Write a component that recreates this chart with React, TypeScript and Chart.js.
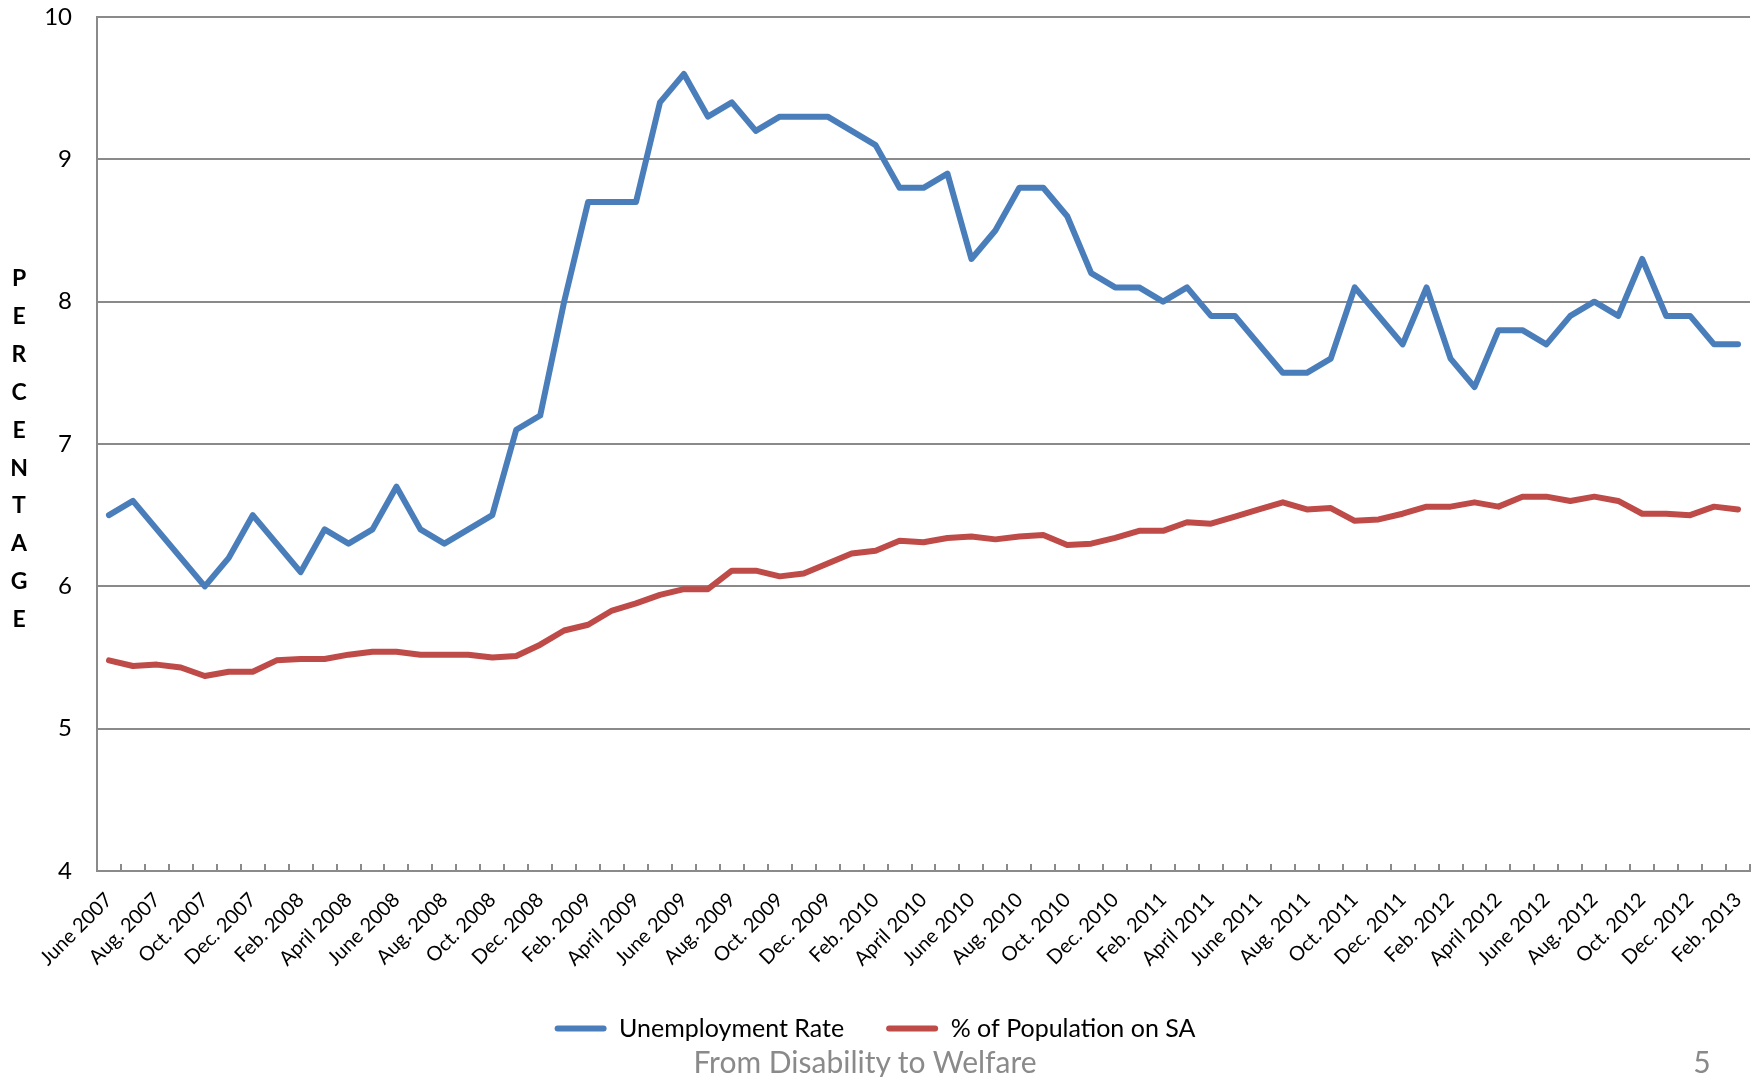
import React, { useEffect, useRef } from "react";
import { Chart, registerables } from "chart.js";

Chart.register(...registerables);

// ---- Data ----
const monthNames = ["Jan.", "Feb.", "March", "April", "May", "June", "July", "Aug.", "Sept.", "Oct.", "Nov.", "Dec."];
const startYear = 2007;
const startMonthIndex = 5; // June
const pointCount = 69; // June 2007 .. Feb. 2013

const categories: string[] = Array.from({ length: pointCount }, (_, i) => {
  const m = (startMonthIndex + i) % 12;
  const y = startYear + Math.floor((startMonthIndex + i) / 12);
  return `${monthNames[m]} ${y}`;
});

const unemploymentRate = [
  6.5, 6.6, 6.4, 6.2, 6.0, 6.2, 6.5, 6.3, 6.1, 6.4,
  6.3, 6.4, 6.7, 6.4, 6.3, 6.4, 6.5, 7.1, 7.2, 8.0,
  8.7, 8.7, 8.7, 9.4, 9.6, 9.3, 9.4, 9.2, 9.3, 9.3,
  9.3, 9.2, 9.1, 8.8, 8.8, 8.9, 8.3, 8.5, 8.8, 8.8,
  8.6, 8.2, 8.1, 8.1, 8.0, 8.1, 7.9, 7.9, 7.7, 7.5,
  7.5, 7.6, 8.1, 7.9, 7.7, 8.1, 7.6, 7.4, 7.8, 7.8,
  7.7, 7.9, 8.0, 7.9, 8.3, 7.9, 7.9, 7.7, 7.7,
];

const populationOnSA = [
  5.48, 5.44, 5.45, 5.43, 5.37, 5.40, 5.40, 5.48, 5.49, 5.49,
  5.52, 5.54, 5.54, 5.52, 5.52, 5.52, 5.50, 5.51, 5.59, 5.69,
  5.73, 5.83, 5.88, 5.94, 5.98, 5.98, 6.11, 6.11, 6.07, 6.09,
  6.16, 6.23, 6.25, 6.32, 6.31, 6.34, 6.35, 6.33, 6.35, 6.36,
  6.29, 6.30, 6.34, 6.39, 6.39, 6.45, 6.44, 6.49, 6.54, 6.59,
  6.54, 6.55, 6.46, 6.47, 6.51, 6.56, 6.56, 6.59, 6.56, 6.63,
  6.63, 6.60, 6.63, 6.60, 6.51, 6.51, 6.50, 6.56, 6.54,
];

const seriesNames = ["Unemployment Rate", "% of Population on SA"];
const yMin = 4;
const yMax = 10;
const yStep = 1;
const axisTitleLetters = ["P", "E", "R", "C", "E", "N", "T", "A", "G", "E"];
const footerText = "From Disability to Welfare";
const slideNumber = "5";

const BLUE = "#4A7EBB";
const RED = "#BE4B48";
const GRID = "#8a8a8a";
const FONT = "Lato, 'Open Sans', sans-serif";

export default function App() {
  const canvasRef = useRef<HTMLCanvasElement | null>(null);

  useEffect(() => {
    const canvas = canvasRef.current;
    if (!canvas) return;
    const chart = new Chart(canvas, {
      type: "line",
      data: {
        labels: categories,
        datasets: [
          {
            label: seriesNames[0],
            data: unemploymentRate,
            borderColor: BLUE,
            backgroundColor: BLUE,
            borderWidth: 6,
            pointRadius: 0,
            tension: 0,
            borderJoinStyle: "round",
            borderCapStyle: "round",
          },
          {
            label: seriesNames[1],
            data: populationOnSA,
            borderColor: RED,
            backgroundColor: RED,
            borderWidth: 6,
            pointRadius: 0,
            tension: 0,
            borderJoinStyle: "round",
            borderCapStyle: "round",
          },
        ],
      },
      options: {
        responsive: false,
        animation: false,
        devicePixelRatio: 1,
        layout: { padding: { left: 0, right: 14, top: 17, bottom: 26 } },
        plugins: {
          tooltip: { enabled: false },
          legend: {
            position: "bottom",
            labels: {
              font: { family: FONT, size: 25 },
              color: "#000",
              boxWidth: 52,
              boxHeight: 6,
              padding: 42,
              generateLabels: (c: any) =>
                Chart.defaults.plugins.legend.labels.generateLabels(c).map((l: any) => ({
                  ...l,
                  lineWidth: 0,
                  fillStyle: l.strokeStyle,
                  borderRadius: 3,
                })),
            },
          },
        },
        scales: {
          x: {
            type: "category",
            offset: true,
            grid: {
              offset: true,
              drawOnChartArea: false,
              drawTicks: true,
              tickLength: -7,
              color: GRID,
              lineWidth: 2,
            },
            border: { display: true, color: GRID, width: 2 },
            ticks: {
              autoSkip: false,
              maxRotation: 45,
              minRotation: 45,
              padding: 24,
              font: { family: FONT, size: 20 },
              color: "#000",
              callback: (_v: any, i: number) => (i % 2 === 0 ? categories[i] : ""),
            },
            afterFit: (s: any) => {
              s.height = 103;
              s.paddingLeft = 0;
              s.paddingRight = 0;
            },
          },
          y: {
            min: yMin,
            max: yMax,
            ticks: {
              stepSize: yStep,
              padding: 25,
              font: { family: FONT, size: 24 },
              color: "#000",
            },
            grid: { color: GRID, lineWidth: 2, drawTicks: false },
            border: { display: true, color: GRID, width: 2 },
            afterFit: (s: any) => {
              s.width = 97;
              s.paddingTop = 0;
              s.paddingBottom = 0;
            },
          },
        },
      },
    } as any);
    return () => chart.destroy();
  }, []);

  return (
    <div
      style={{
        position: "absolute",
        left: 0,
        top: 0,
        width: 1764,
        height: 1077,
        background: "#fff",
        overflow: "hidden",
        fontFamily: FONT,
      }}
    >
      <canvas
        ref={canvasRef}
        width={1764}
        height={1077}
        style={{ position: "absolute", left: 0, top: 0, width: 1764, height: 1077 }}
      />
      <div
        style={{
          position: "absolute",
          left: 0,
          top: 259,
          width: 38,
          textAlign: "center",
          fontWeight: 700,
          fontSize: 23,
          lineHeight: "37.9px",
          color: "#000",
        }}
      >
        {axisTitleLetters.map((ch, i) => (
          <div key={i}>{ch}</div>
        ))}
      </div>
      <div
        style={{
          position: "absolute",
          left: 565,
          width: 600,
          top: 1041,
          textAlign: "center",
          fontSize: 30,
          lineHeight: "40px",
          color: "#8a8a8a",
        }}
      >
        {footerText}
      </div>
      <div
        style={{
          position: "absolute",
          left: 1672,
          width: 60,
          top: 1041,
          textAlign: "center",
          fontSize: 30,
          lineHeight: "40px",
          color: "#8a8a8a",
        }}
      >
        {slideNumber}
      </div>
    </div>
  );
}
